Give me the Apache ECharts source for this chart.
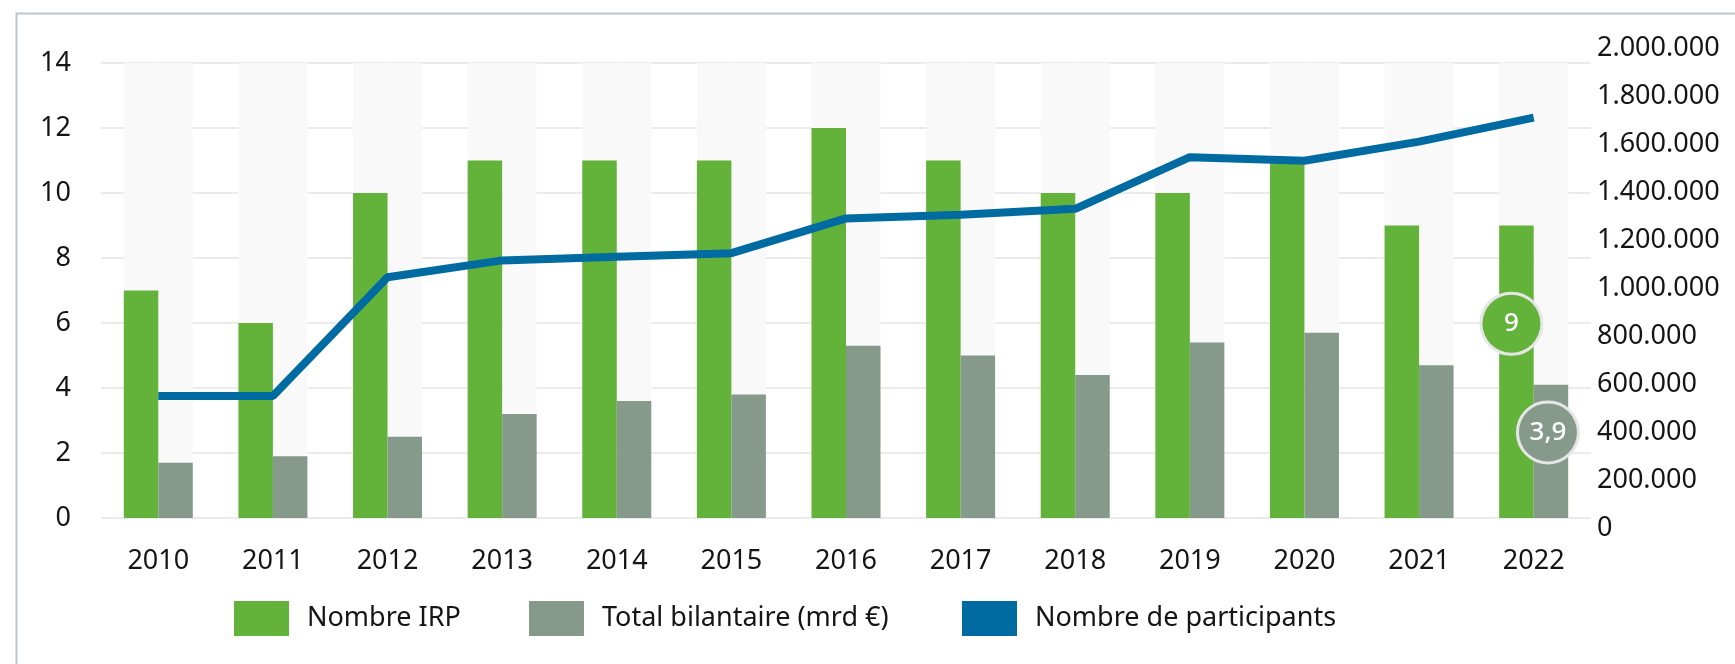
<!DOCTYPE html>
<html>
<head>
<meta charset="utf-8">
<script src="https://cdn.jsdelivr.net/npm/echarts@6/dist/echarts.min.js"></script>
<style>
  html, body { margin: 0; padding: 0; background: #fff; }
  #chart { width: 1735px; height: 664px; }
</style>
</head>
<body>
<div id="chart"></div>
<script>
// values
const years = ['2010', '2011', '2012', '2013', '2014', '2015', '2016', '2017', '2018', '2019', '2020', '2021', '2022']
const nombreIRP = [7, 6, 10, 11, 11, 11, 12, 11, 10, 10, 11, 9, 9]
const totalBilan = [1.7, 1.9, 2.5, 3.2, 3.6, 3.8, 5.3, 5.0, 4.4, 5.4, 5.7, 4.7, 4.1]
const participants = [550000, 550000, 1045000, 1115000, 1130000, 1145000, 1290000, 1305000, 1330000, 1545000, 1530000, 1610000, 1710000]
const leftTicks = [0, 14, 2]          // min, max, interval
const rightTicks = [0, 2000000, 200000]
const seriesNames = ['Nombre IRP', 'Total bilantaire (mrd €)', 'Nombre de participants']
const badgeLabels = ['9', '3,9']

const GREEN = '#63b23a'
const GREY = '#869a8c'
const BLUE = '#006ba1'
const FONT = 'Noto Sans'
const TXT = '#151515'
const last = years.length - 1

const chart = echarts.init(document.getElementById('chart'))

// round badge shown on the last bar of a series
function badge (text, color, offset) {
  return {
    show: true,
    position: 'inside',
    offset: offset,
    formatter: text,
    color: '#fff',
    fontFamily: FONT,
    fontSize: 26,
    fontWeight: 500,
    backgroundColor: color,
    borderColor: '#e6e6e6',
    borderWidth: 3,
    borderRadius: 32,
    width: 58,
    height: 58,
    lineHeight: 58,
    align: 'center',
    verticalAlign: 'middle'
  }
}

function dots (v) {
  return String(v).replace(/\B(?=(\d{3})+(?!\d))/g, '.')
}

const gridLeft = 101
const gridRight = 144

const option = {
  animation: false,
  backgroundColor: '#fff',
  textStyle: { fontFamily: FONT },
  graphic: [
    {
      type: 'rect',
      left: 14,
      top: 11,
      shape: { width: 1800, height: 700 },
      style: { fill: 'none', stroke: '#bcc5cb', lineWidth: 2 },
      silent: true
    }
  ],
  grid: [
    { left: gridLeft, right: gridRight, top: 63, bottom: 664 - 518, outerBoundsMode: 'none' },
    { left: gridLeft, right: gridRight, top: 48, bottom: 664 - 528, outerBoundsMode: 'none' }
  ],
  legend: seriesNames.map((name, i) => ({
    data: [{ name: name, icon: 'rect' }],
    left: [234, 529, 962][i],
    top: 601,
    itemWidth: 55,
    itemHeight: 35,
    padding: 0,
    selectedMode: false,
    textStyle: { fontFamily: FONT, fontSize: 27, color: TXT, padding: [0, 0, 0, 13] }
  })),
  xAxis: [
    {
      type: 'category',
      gridIndex: 0,
      data: years,
      axisLine: { show: false },
      axisTick: { show: false },
      axisLabel: { color: TXT, fontFamily: FONT, fontSize: 27, margin: 30 }
    },
    {
      type: 'category',
      gridIndex: 1,
      data: years,
      show: false
    }
  ],
  yAxis: [
    {
      type: 'value',
      gridIndex: 0,
      min: leftTicks[0],
      max: leftTicks[1],
      interval: leftTicks[2],
      axisLine: { show: false },
      axisTick: { show: false },
      splitLine: { lineStyle: { color: '#ebebeb', width: 2 } },
      axisLabel: { color: TXT, fontFamily: FONT, fontSize: 27, margin: 30 }
    },
    {
      type: 'value',
      gridIndex: 1,
      position: 'right',
      min: rightTicks[0],
      max: rightTicks[1],
      interval: rightTicks[2],
      axisLine: { show: false },
      axisTick: { show: false },
      splitLine: { show: false },
      axisLabel: { color: TXT, fontFamily: FONT, fontSize: 27, margin: 6, formatter: dots }
    }
  ],
  series: [
    {
      name: seriesNames[0],
      type: 'bar',
      xAxisIndex: 0,
      yAxisIndex: 0,
      barWidth: 34.5,
      barGap: '0%',
      itemStyle: { color: GREEN },
      showBackground: true,
      backgroundStyle: { color: '#f9f9f9' },
      data: nombreIRP.map((v, i) => i === last ? { value: v, label: badge(badgeLabels[0], GREEN, [-5, -48]) } : v)
    },
    {
      name: seriesNames[1],
      type: 'bar',
      xAxisIndex: 0,
      yAxisIndex: 0,
      barWidth: 34.5,
      barGap: '0%',
      itemStyle: { color: GREY },
      showBackground: true,
      backgroundStyle: { color: '#f9f9f9' },
      data: totalBilan.map((v, i) => i === last ? { value: v, label: badge(badgeLabels[1], GREY, [-3, -19]) } : v)
    },
    {
      name: seriesNames[2],
      type: 'line',
      xAxisIndex: 1,
      yAxisIndex: 1,
      symbol: 'none',
      lineStyle: { color: BLUE, width: 8 },
      itemStyle: { color: BLUE },
      z: 5,
      data: participants
    }
  ]
}

chart.setOption(option)
</script>
</body>
</html>
